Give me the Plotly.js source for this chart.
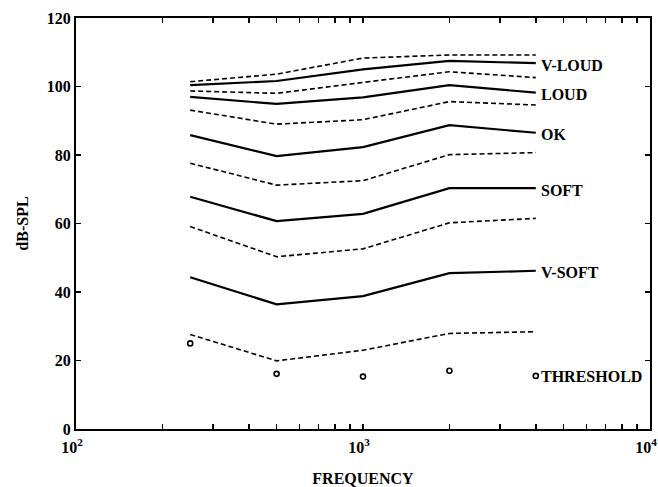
<!DOCTYPE html>
<html>
<head>
<meta charset="utf-8">
<script src="https://cdn.plot.ly/plotly-3.0.1.min.js"></script>
<style>
  html, body { margin: 0; padding: 0; background: #fff; }
  #chart { width: 658px; height: 487px; }
</style>
</head>
<body>
<div id="chart"></div>
<script>
// Test frequencies (Hz)
const freqs = [250, 500, 1000, 2000, 4000];

// Loudness category medians (solid) in dB-SPL
const vLoud = [100.4, 101.6, 105.0, 107.5, 106.8];
const loud  = [97.0, 94.9, 96.8, 100.4, 98.2];
const ok    = [85.8, 79.7, 82.3, 88.7, 86.5];
const soft  = [67.8, 60.7, 62.8, 70.3, 70.3];
const vSoft = [44.3, 36.4, 38.8, 45.5, 46.2];

// Category boundaries (dashed) in dB-SPL, top to bottom
const bound1 = [101.4, 103.6, 108.3, 109.2, 109.2];
const bound2 = [98.7, 98.0, 101.2, 104.3, 102.6];
const bound3 = [93.1, 89.0, 90.3, 95.6, 94.6];
const bound4 = [77.6, 71.2, 72.5, 80.1, 80.7];
const bound5 = [59.1, 50.3, 52.6, 60.2, 61.5];
const bound6 = [27.6, 19.9, 23.0, 27.9, 28.4];

// Hearing threshold points
const threshold = [25.0, 16.1, 15.3, 17.0, 15.5];

// Right-hand labels
const solidSeries = [vLoud, loud, ok, soft, vSoft];
const solidLabels = ['V-LOUD', 'LOUD', 'OK', 'SOFT', 'V-SOFT'];
const dashedSeries = [bound1, bound2, bound3, bound4, bound5, bound6];
const thresholdLabel = 'THRESHOLD';

// Axis ticks
const xTickVals = [100, 1000, 10000];
const xTickText = ['10<sup>2</sup>', '10<sup>3</sup>', '10<sup>4</sup>'];
const xMinorVals = [200, 300, 400, 500, 600, 700, 800, 900,
                    2000, 3000, 4000, 5000, 6000, 7000, 8000, 9000];
const yTickVals = [0, 20, 40, 60, 80, 100, 120];

const FONT = 'Liberation Serif, Times New Roman, serif';
const boldFont = { family: FONT, size: 16, color: '#000', weight: 'bold' };

const traces = [];
dashedSeries.forEach(s => traces.push({
  x: freqs, y: s, type: 'scatter', mode: 'lines',
  line: { color: '#000', width: 1.6, dash: '5px,3px' },
  hoverinfo: 'skip'
}));
solidSeries.forEach(s => traces.push({
  x: freqs, y: s, type: 'scatter', mode: 'lines',
  line: { color: '#000', width: 2.2 },
  hoverinfo: 'skip'
}));
traces.push({
  x: freqs, y: threshold, type: 'scatter', mode: 'markers',
  marker: { symbol: 'circle-open', size: 5, color: '#000', line: { width: 1.6, color: '#000' } },
  hoverinfo: 'skip'
});

const lastIdx = freqs.length - 1;
const annotations = solidSeries.map((s, i) => ({
  x: Math.log10(freqs[lastIdx]), y: s[lastIdx], xref: 'x', yref: 'y',
  text: solidLabels[i], showarrow: false, xanchor: 'left', yanchor: 'middle',
  xshift: 3, yshift: -2, font: boldFont
}));
annotations.push({
  x: Math.log10(freqs[lastIdx]), y: threshold[lastIdx], xref: 'x', yref: 'y',
  text: thresholdLabel, showarrow: false, xanchor: 'left', yanchor: 'middle',
  xshift: 3, yshift: -1, font: boldFont
});

const layout = {
  width: 658, height: 487,
  margin: { l: 76, r: 8, t: 18, b: 58 },
  paper_bgcolor: '#fff', plot_bgcolor: '#fff',
  showlegend: false,
  font: boldFont,
  xaxis: {
    type: 'log', range: [2, 4], autorange: false,
    tickmode: 'array', tickvals: xTickVals, ticktext: xTickText,
    ticks: 'inside', ticklen: 5, tickwidth: 1.6, tickcolor: '#000',
    minor: { tickmode: 'array', tickvals: xMinorVals, ticks: 'inside', ticklen: 5,
             tickwidth: 1.6, tickcolor: '#000', showgrid: false },
    ticklabelshift: -4, ticklabelstandoff: 3, ticklabeloverflow: 'allow',
    showline: true, linewidth: 2, linecolor: '#000', mirror: 'ticks',
    showgrid: false, zeroline: false,
    tickfont: boldFont,
    title: { text: 'FREQUENCY', standoff: 20, font: boldFont },
    automargin: false
  },
  yaxis: {
    range: [0, 120], autorange: false,
    tickmode: 'array', tickvals: yTickVals,
    ticks: 'inside', ticklen: 5, tickwidth: 1.6, tickcolor: '#000',
    showline: true, linewidth: 2, linecolor: '#000', mirror: 'ticks',
    showgrid: false, zeroline: false,
    tickfont: boldFont,
    title: { text: 'dB-SPL', standoff: 14, font: boldFont },
    automargin: false
  },
  annotations: annotations
};

Plotly.newPlot('chart', traces, layout, { staticPlot: true, displayModeBar: false });
</script>
</body>
</html>
